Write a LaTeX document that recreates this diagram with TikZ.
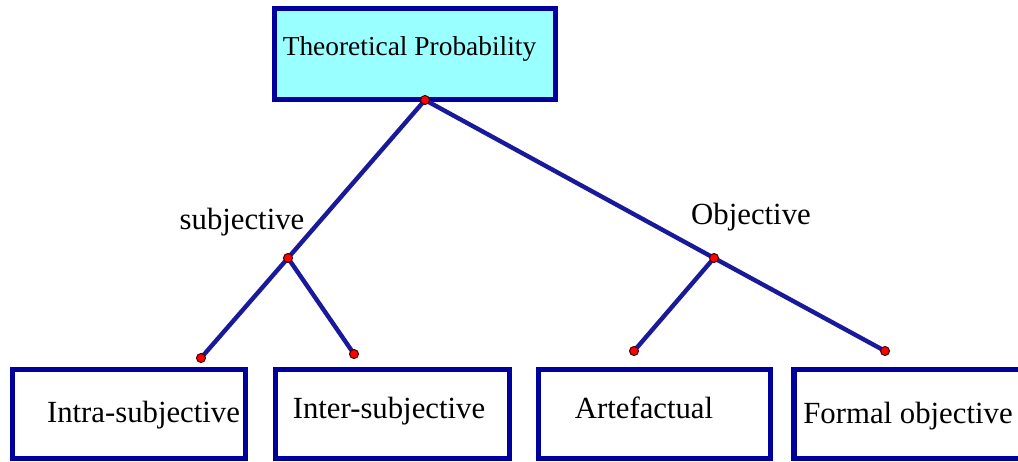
\documentclass[tikz,border=0pt]{standalone}
\usepackage{fontspec}
\setmainfont{Liberation Serif}
\definecolor{boxblue}{RGB}{0,0,158}
\definecolor{lineblue}{RGB}{25,25,155}
\definecolor{topfill}{RGB}{153,255,255}
\begin{document}
\begin{tikzpicture}
[x=0.2mm,y=-0.2mm]
\tikzstyle{box}=[draw=boxblue, line width=3pt, rectangle, inner sep=0pt]
\tikzstyle{word}=[font=\fontsize{17.5}{20}\selectfont, anchor=base, inner sep=0pt]
\tikzstyle{branch}=[draw=lineblue, line width=2.5pt]
\tikzstyle{dot}=[circle, fill=red, draw=black!70!red, line width=0.6pt, minimum size=1.8mm, inner sep=0pt]
\clip (0,0) rectangle (1018,461);
% boxes
\node[box, fill=topfill, minimum width=56.2mm, minimum height=18.2mm] (theorybox) at (415,54) {};
\node[box, minimum width=46.6mm, minimum height=17.8mm] (intrabox) at (129,414) {};
\node[box, minimum width=46.8mm, minimum height=17.8mm] (interbox) at (392.5,414) {};
\node[box, minimum width=46.4mm, minimum height=17.8mm] (artebox) at (654.5,414) {};
\node[box, minimum width=46mm, minimum height=17.8mm] (formalbox) at (909,414) {};
% texts
\node[word, font=\fontsize{15.6}{18}\selectfont] (theory) at (409.5,55) {Theoretical Probability};
\node[word] (intra) at (143.5,422) {Intra-subjective};
\node[word] (inter) at (389,418) {Inter-subjective};
\node[word] (arte) at (644,418) {Artefactual};
\node[word] (formal) at (908,423) {Formal objective};
\node[word] (subjlabel) at (242,229) {subjective};
\node[word] (objlabel) at (751,224) {Objective};
% branch points
\coordinate (root) at (425,100);
\coordinate (subj) at (288,258);
\coordinate (obj) at (714,258);
\coordinate (intraend) at (201,358);
\coordinate (interend) at (354,354);
\coordinate (arteend) at (634,351);
\coordinate (formalend) at (885,351);
\draw[branch] (root) -- (subj) -- (intraend);
\draw[branch] (subj) -- (interend);
\draw[branch] (root) -- (obj) -- (formalend);
\draw[branch] (obj) -- (arteend);
\foreach \p in {root,subj,obj,intraend,interend,arteend,formalend}
  \node[dot] at (\p) {};
\end{tikzpicture}
\end{document}
